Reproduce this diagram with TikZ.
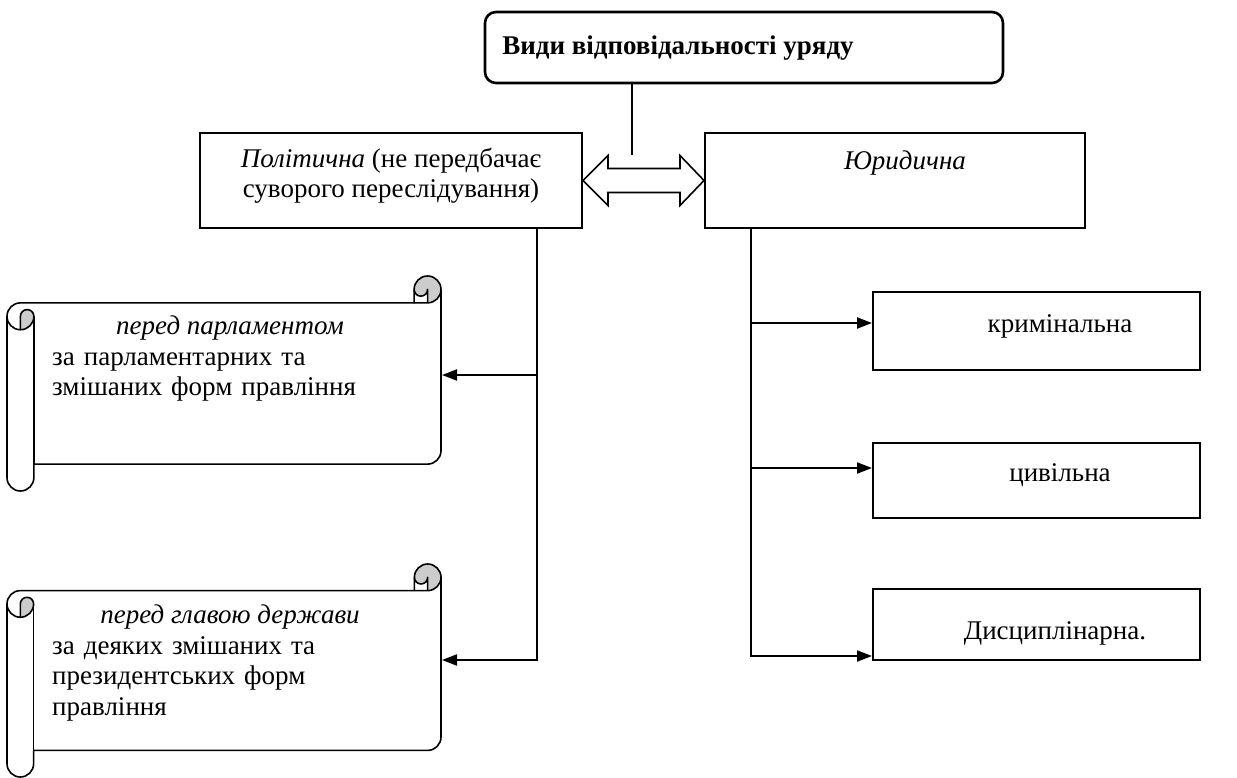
\documentclass[tikz,border=0pt]{standalone}
\usepackage{fontspec}
\setmainfont{Liberation Serif}
\usetikzlibrary{arrows.meta,calc}
\newcommand\myscroll[4]{%
 \pgfmathsetmacro\scrA{(#4-#2)/8}%
 \pgfmathsetmacro\scrB{\scrA/2}%
 \pgfmathsetmacro\scrC{\scrA/4}%
 \fill[white] ({#1},{#2+1.5*\scrA}) arc[start angle=180,delta angle=-90,radius=\scrB pt]
   -- ({#3-\scrA},{#2+\scrA}) -- ({#3-\scrA},{#2+\scrB})
   arc[start angle=180,delta angle=-180,radius=\scrB pt]
   -- ({#3},{#4-1.5*\scrA}) arc[start angle=0,delta angle=-90,radius=\scrB pt]
   -- ({#1+\scrA},{#4-\scrA}) -- ({#1+\scrA},{#4-\scrB})
   arc[start angle=0,delta angle=-180,radius=\scrB pt] -- cycle;
 \fill[scrshade] ({#1+\scrB},{#2+2*\scrA}) arc[start angle=-90,delta angle=90,radius=\scrB pt]
   arc[start angle=0,delta angle=180,radius=\scrC pt] -- cycle;
 \fill[scrshade] ({#3-\scrB},{#2+\scrA}) arc[start angle=-90,delta angle=270,radius=\scrB pt]
   arc[start angle=180,delta angle=180,radius=\scrC pt] -- cycle;
 \draw[scrl] ({#1},{#2+1.5*\scrA}) arc[start angle=180,delta angle=-90,radius=\scrB pt]
   -- ({#3-\scrA},{#2+\scrA}) -- ({#3-\scrA},{#2+\scrB})
   arc[start angle=180,delta angle=-180,radius=\scrB pt]
   -- ({#3},{#4-1.5*\scrA}) arc[start angle=0,delta angle=-90,radius=\scrB pt]
   -- ({#1+\scrA},{#4-\scrA}) -- ({#1+\scrA},{#4-\scrB})
   arc[start angle=0,delta angle=-180,radius=\scrB pt] -- cycle;
 \draw[scrl] ({#3-\scrA},{#2+\scrA}) -- ({#3-\scrB},{#2+\scrA})
   arc[start angle=-90,delta angle=90,radius=\scrB pt];
 \draw[scrl] ({#3-\scrB},{#2+\scrA}) -- ({#3-\scrB},{#2+\scrB})
   arc[start angle=0,delta angle=-180,radius=\scrC pt];
 \draw[scrl] ({#1+\scrB},{#2+2*\scrA}) -- ({#1+\scrB},{#2+1.5*\scrA})
   arc[start angle=180,delta angle=-180,radius=\scrC pt]
   arc[start angle=0,delta angle=-180,radius=\scrB pt];
 \draw[scrl] ({#1+\scrA},{#2+1.5*\scrA}) -- ({#1+\scrA},{#4-\scrA});
}
\begin{document}
\begin{tikzpicture}[x=1pt,y=-1pt,
  txt/.style={font=\fontsize{27}{30.5}\selectfont, inner sep=0pt},
  boxa/.style={draw, line width=2pt, inner sep=0pt, fill=white},
  conn/.style={line width=2pt},
  arr/.style={line width=2pt, -{Triangle[length=15pt,width=11pt]}},
  scrl/.style={line width=1.6pt, line join=round},
  scrshade/.style={fill=black!20},
  dbl/.style={draw, line width=1.6pt, fill=white, line join=miter},
]
\useasboundingbox (0,0) rectangle (1237,778);
\fill[white] (0,0) rectangle (1237,778);

% top box
\node[boxa, line width=2.6pt, rounded corners=11pt, minimum width=518pt, minimum height=71pt] (topbox) at (744,47.5) {};
\node[txt, anchor=base] (toptext) at (678,55) {\textbf{Види відповідальності уряду}};

% second level
\node[boxa, minimum width=382pt, minimum height=95pt] (polit) at (391,180.5) {};
\node[txt, anchor=base, align=center] (polittext) at (391,198) {\textit{Політична} (не передбачає\\суворого переслідування)};
\node[boxa, minimum width=380pt, minimum height=95pt] (jur) at (895,180.5) {};
\node[txt, anchor=base] (jurtext) at (905,170) {\textit{Юридична}};

% connector from top box
\coordinate (tc) at (632,155);
\draw[conn] (topbox.south -| tc) -- (tc);

% double arrow
\draw[dbl] (polit.east) -- ++(25,-25) -- ++(0,13) -- ($(jur.west)+(-24,-12)$) -- ++(0,-13)
  -- (jur.west) -- ++(-24,25) -- ++(0,-13) -- ($(polit.east)+(25,12)$) -- ++(0,13) -- cycle;

% right boxes
\node[boxa, minimum width=327pt, minimum height=78pt] (crim) at (1036.5,331) {};
\node[txt, anchor=base] (crimtext) at (1060,332) {кримінальна};
\node[boxa, minimum width=327pt, minimum height=75pt] (civ) at (1036.5,480) {};
\node[txt, anchor=base] (civtext) at (1060,481) {цивільна};
\node[boxa, minimum width=327pt, minimum height=71pt] (disc) at (1036.5,624.5) {};
\node[txt, anchor=base] (disctext) at (1055,639) {Дисциплінарна.};

% right tree
\coordinate (rv) at (751,656);
\draw[arr] (jur.south -| rv) -- (rv) -- (disc.west |- rv);
\draw[arr] (rv |- 0,323) -- (crim.west |- 0,323);
\draw[arr] (rv |- 0,468) -- (civ.west |- 0,468);

% scrolls
\myscroll{7}{276}{441}{491}
\myscroll{7}{564}{441}{777}
\node[txt, anchor=base] (s1head) at (230,334) {\textit{перед парламентом}};
\node[txt, anchor=base west, text width=380pt, align=left] (s1body) at (52,365) {за парламентарних та\\змішаних форм правління};
\node[txt, anchor=base] (s2head) at (230,623) {\textit{перед главою держави}};
\node[txt, anchor=base west, text width=380pt, align=left] (s2body) at (52,654) {за деяких змішаних та\\президентських форм\\правління};

% left tree
\coordinate (s1in) at (442,375);
\coordinate (s2in) at (442,660);
\coordinate (lv) at (537,660);
\draw[arr] (polit.south -| lv) -- (lv) -- (s2in);
\draw[arr] (lv |- s1in) -- (s1in);
\end{tikzpicture}
\end{document}
